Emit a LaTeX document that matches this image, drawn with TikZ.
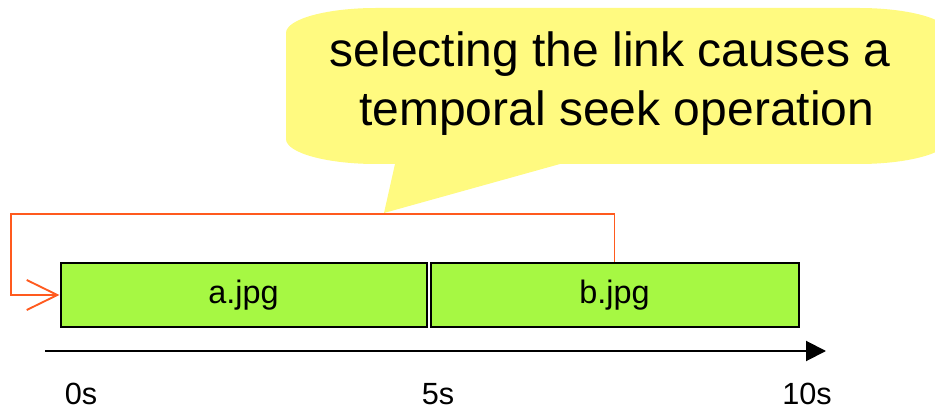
\documentclass[tikz,border=0pt]{standalone}
\usepackage{fontspec}
\setmainfont{Liberation Sans}
\usetikzlibrary{arrows.meta}

\definecolor{bubbleyellow}{RGB}{255,250,128}
\definecolor{clipgreen}{RGB}{166,248,67}
\definecolor{linkorange}{RGB}{255,90,30}

\begin{document}
\begin{tikzpicture}[x=0.75pt,y=-0.75pt,
  clipbox/.style={draw=black,line width=1.5pt,fill=clipgreen,inner sep=0pt,
    minimum height=48pt,font=\fontsize{24.3}{29}\selectfont},
  linkline/.style={draw=linkorange,line width=1.4pt,line join=miter},
  timeline/.style={draw=black,line width=1.5pt,-{Triangle[length=15pt,width=15pt]}},
  ticklabel/.style={anchor=base,inner sep=0pt,font=\fontsize{23}{27}\selectfont},
  bubbletext/.style={anchor=base,inner sep=0pt,align=center,
    font=\fontsize{36}{44.25}\selectfont}]

\useasboundingbox (0,0) rectangle (935,409);

% speech bubble with elliptical corners, cut off by the right margin
\begin{scope}
  \clip (0,0) rectangle (935,409);
  \fill[bubbleyellow]
    (376,8) -- (859,8)
    .. controls (908.7,8) and (949,19.2) .. (949,33)
    -- (949,139)
    .. controls (949,152.8) and (908.7,164) .. (859,164)
    -- (560,164) -- (384,213) -- (395,164) -- (376,164)
    .. controls (326.3,164) and (286,152.8) .. (286,139)
    -- (286,33)
    .. controls (286,19.2) and (326.3,8) .. (376,8)
    -- cycle;
\end{scope}
\node[bubbletext] (note) at (610,126)
  {selecting the link causes a\\\hspace*{0.28em}temporal seek operation};

% media clips on the timeline
\node[clipbox,minimum width=274.5pt] (clipa) at (243.5,295) {a.jpg};
\node[clipbox,minimum width=276pt] (clipb) at (614.5,295) {b.jpg};

% hyperlink from b.jpg back to the start of a.jpg
\coordinate (loopcorner) at (11,214);
\draw[linkline,-{Straight Barb[length=23pt,width=22.5pt,line width=1.4pt]}]
  (clipb.north) |- (loopcorner) |- (clipa.west);

% time axis
\coordinate (tstart) at (45,351);
\coordinate (tend) at (826,351);
\draw[timeline] (tstart) -- (tend);

\node[ticklabel] (t0) at (81,404) {0s};
\node[ticklabel] (t5) at (438,404) {5s};
\node[ticklabel] (t10) at (807,404) {10s};
\end{tikzpicture}
\end{document}
